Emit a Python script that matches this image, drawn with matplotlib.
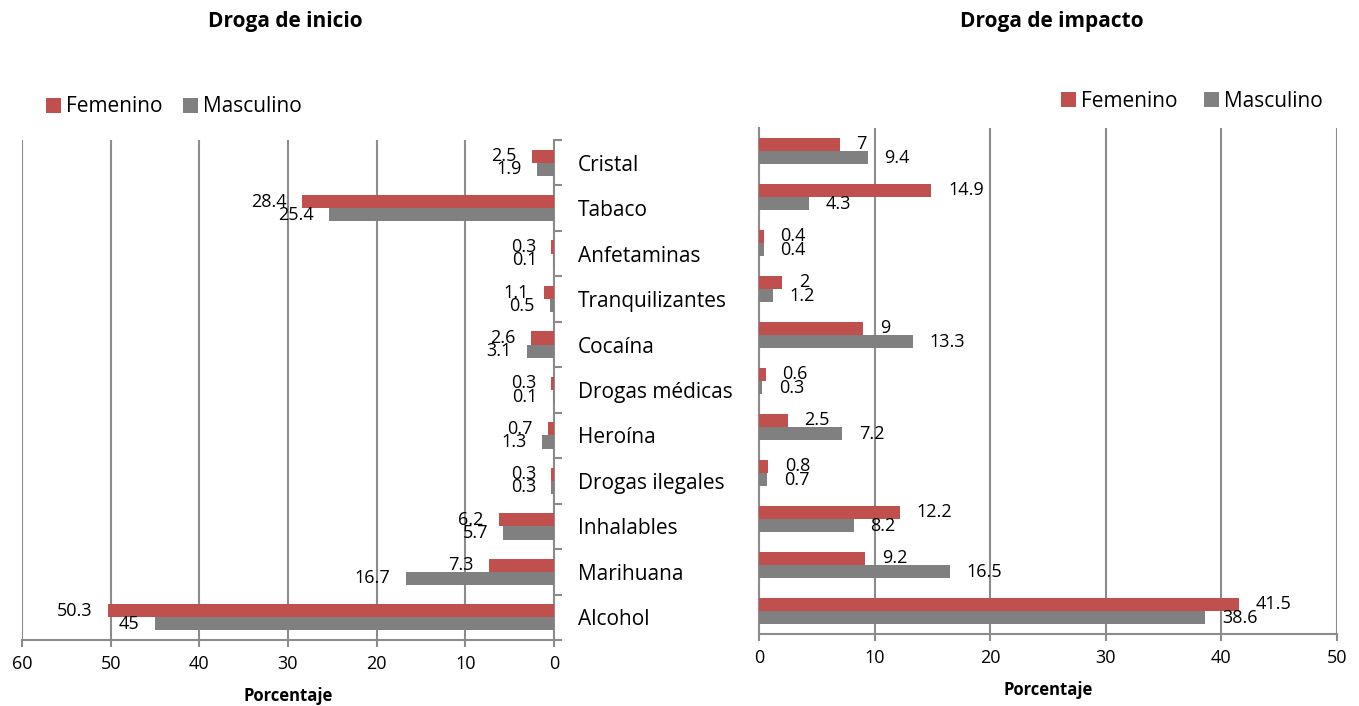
import matplotlib
matplotlib.use("Agg")
import matplotlib.pyplot as plt
import numpy as np

plt.rcParams['font.family'] = ['Open Sans', 'DejaVu Sans']

# datos
categorias = ["Cristal", "Tabaco", "Anfetaminas", "Tranquilizantes", "Cocaína",
              "Drogas médicas", "Heroína", "Drogas ilegales", "Inhalables",
              "Marihuana", "Alcohol"]
inicio_fem = [2.5, 28.4, 0.3, 1.1, 2.6, 0.3, 0.7, 0.3, 6.2, 7.3, 50.3]
inicio_masc = [1.9, 25.4, 0.1, 0.5, 3.1, 0.1, 1.3, 0.3, 5.7, 16.7, 45]
impacto_fem = [7, 14.9, 0.4, 2, 9, 0.6, 2.5, 0.8, 12.2, 9.2, 41.5]
impacto_masc = [9.4, 4.3, 0.4, 1.2, 13.3, 0.3, 7.2, 0.7, 8.2, 16.5, 38.6]

rojo = "#C0504D"
gris = "#808080"
grid_col = "#8C8C8C"

W, H = 1359, 706
fig = plt.figure(figsize=(W / 100, H / 100), dpi=100)


def px_axes(x0, x1, ytop, ybot):
    return fig.add_axes([x0 / W, (H - ybot) / H, (x1 - x0) / W, (ybot - ytop) / H])


y = np.arange(len(categorias))
h = 0.29

# ---- panel izquierdo: droga de inicio ----
ax1 = px_axes(22, 554, 140, 640)
ax1.barh(y - h / 2, inicio_fem, height=h, color=rojo, label="Femenino", zorder=3)
ax1.barh(y + h / 2, inicio_masc, height=h, color=gris, label="Masculino", zorder=3)
ax1.set_xlim(60, 0)
ax1.set_ylim(len(categorias) - 0.5, -0.5)
ax1.set_xticks(range(0, 61, 10))
ax1.grid(axis='x', color=grid_col, linewidth=1.5, zorder=0)
ax1.yaxis.tick_right()
ax1.set_yticks(y)
ax1.set_yticklabels(categorias, fontsize=15)
ax1.set_yticks(np.arange(-0.5, len(categorias), 1), minor=True)
ax1.tick_params(axis='y', which='major', length=0, pad=17)
ax1.tick_params(axis='y', which='minor', length=6, width=1.5, color=grid_col)
ax1.tick_params(axis='x', length=5, width=1.5, color=grid_col, labelsize=13, pad=6)
for s in ['top', 'left']:
    ax1.spines[s].set_visible(False)
for s in ['right', 'bottom']:
    ax1.spines[s].set_color(grid_col)
    ax1.spines[s].set_linewidth(1.5)
ax1.set_xlabel("Porcentaje", fontsize=12, fontweight='bold', labelpad=10)
for i in range(len(categorias)):
    ax1.annotate(f"{inicio_fem[i]:g}", (inicio_fem[i], y[i] - h / 2), xytext=(-11, 0),
                 textcoords='offset points', ha='right', va='center', fontsize=13)
    ax1.annotate(f"{inicio_masc[i]:g}", (inicio_masc[i], y[i] + h / 2), xytext=(-11, 0),
                 textcoords='offset points', ha='right', va='center', fontsize=13)
ax1.legend(loc='center left', bbox_to_anchor=(0.03, 1.066), ncol=2, frameon=False,
           fontsize=15, handlelength=0.7, handleheight=0.7, handletextpad=0.25,
           columnspacing=1.0, borderaxespad=0)

# ---- panel derecho: droga de impacto ----
ax2 = px_axes(759, 1337, 128, 634)
ax2.barh(y - h / 2, impacto_fem, height=h, color=rojo, label="Femenino", zorder=3)
ax2.barh(y + h / 2, impacto_masc, height=h, color=gris, label="Masculino", zorder=3)
ax2.set_xlim(0, 50)
ax2.set_ylim(len(categorias) - 0.5, -0.5)
ax2.set_xticks(range(0, 51, 10))
ax2.set_yticks([])
ax2.grid(axis='x', color=grid_col, linewidth=1.5, zorder=0)
ax2.tick_params(axis='x', length=5, width=1.5, color=grid_col, labelsize=13, pad=6)
for s in ['top', 'right']:
    ax2.spines[s].set_visible(False)
for s in ['left', 'bottom']:
    ax2.spines[s].set_color(grid_col)
    ax2.spines[s].set_linewidth(1.5)
ax2.set_xlabel("Porcentaje", fontsize=12, fontweight='bold', labelpad=10)
for i in range(len(categorias)):
    ax2.annotate(f"{impacto_fem[i]:g}", (impacto_fem[i], y[i] - h / 2), xytext=(12, 0),
                 textcoords='offset points', ha='left', va='center', fontsize=13)
    ax2.annotate(f"{impacto_masc[i]:g}", (impacto_masc[i], y[i] + h / 2), xytext=(12, 0),
                 textcoords='offset points', ha='left', va='center', fontsize=13)
ax2.legend(loc='center right', bbox_to_anchor=(0.99, 1.053), ncol=2, frameon=False,
           fontsize=15, handlelength=0.7, handleheight=0.7, handletextpad=0.25,
           columnspacing=1.3, borderaxespad=0)

fig.text(285 / W, 1 - 22 / H, "Droga de inicio", ha='center', va='center',
         fontsize=15, fontweight='bold')
fig.text(1052 / W, 1 - 22 / H, "Droga de impacto", ha='center', va='center',
         fontsize=15, fontweight='bold')

fig.savefig("out.png", dpi=100)
